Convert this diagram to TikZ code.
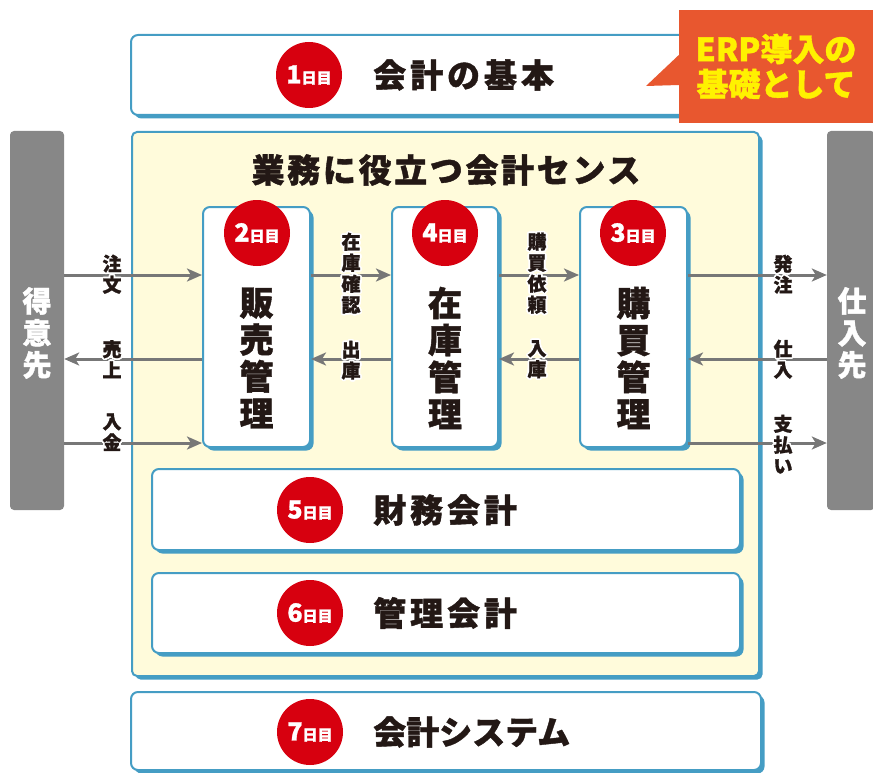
\documentclass[tikz,border=0pt]{standalone}
\usepackage{fontspec}
\setmainfont{Noto Sans CJK JP}[BoldFeatures={FakeBold=1.2}]
\usepackage[copies]{contour}
\contourlength{1.6pt}
\contournumber{20}
\usetikzlibrary{arrows.meta,shadows}
\definecolor{bblue}{RGB}{69,157,196}
\definecolor{cream}{RGB}{255,251,219}
\definecolor{bred}{RGB}{215,0,15}
\definecolor{bgrey}{RGB}{135,135,135}
\definecolor{agrey}{RGB}{119,119,119}
\definecolor{ink}{RGB}{35,24,21}
\definecolor{corange}{RGB}{232,87,47}
\definecolor{cyellow}{RGB}{255,241,0}
\newcommand{\hl}[1]{\contour{white}{#1}}
\tikzset{
  bshadow/.style={drop shadow={shadow xshift=3.5pt,shadow yshift=-3.5pt,fill=bblue,opacity=1}},
  bluebox/.style={draw=bblue, line width=2pt, rounded corners=7pt, fill=white, bshadow, inner sep=0pt},
  yellowbox/.style={draw=bblue, line width=2pt, rounded corners=5pt, fill=cream, bshadow, inner sep=0pt},
  greybar/.style={fill=bgrey, rounded corners=4pt, inner sep=0pt},
  badge/.style={circle, fill=bred, minimum size=66pt, inner sep=0pt, text=white, font=\bfseries},
  boxtext/.style={anchor=west, text=ink, font=\bfseries\fontsize{33}{33}\selectfont\addfontfeature{LetterSpace=12}, inner sep=0pt},
  modtext/.style={text=ink, align=center, font=\bfseries\fontsize{34}{37}\selectfont, inner sep=0pt},
  bartext/.style={text=white, align=center, font=\bfseries\fontsize{29}{32}\selectfont, inner sep=0pt},
  lab/.style={text=ink, align=center, font=\bfseries\fontsize{19}{21}\selectfont, inner sep=0pt},
  arr/.style={draw=agrey, line width=3pt, -{Stealth[length=15pt,width=13pt,inset=4pt]}},
}
\newcommand{\dayno}[1]{{\fontsize{25}{25}\selectfont #1}{\fontsize{15}{15}\selectfont 日目}}
\begin{document}
\begin{tikzpicture}[x=1pt,y=-1pt]
\useasboundingbox (0,0) rectangle (873,773);
% top box
\node[bluebox, minimum width=631pt, minimum height=80pt] (b1) at (446.5,75) {};
% yellow container
\node[yellowbox, minimum width=627pt, minimum height=544pt] (yb) at (445.5,404) {};
\node[text=ink, font=\bfseries\fontsize{33}{33}\selectfont\addfontfeature{LetterSpace=8}, inner sep=0pt] (title) at (446,170) {業務に役立つ会計センス};
% module boxes
\node[bluebox, minimum width=107pt, minimum height=240pt] (sales) at (256.5,327) {};
\node[bluebox, minimum width=106pt, minimum height=240pt] (stock) at (445,327) {};
\node[bluebox, minimum width=107pt, minimum height=240pt] (purch) at (633.5,327) {};
\node[modtext] (salest) at (256.5,358) {販\\売\\管\\理};
\node[modtext] (stockt) at (445,358) {在\\庫\\管\\理};
\node[modtext] (purcht) at (633.5,358) {購\\買\\管\\理};
% lower boxes
\node[bluebox, minimum width=588pt, minimum height=81pt] (b5) at (446,509.5) {};
\node[bluebox, minimum width=588pt, minimum height=80pt] (b6) at (446,613) {};
\node[bluebox, minimum width=630pt, minimum height=78pt] (b7) at (446,731) {};
% grey bars
\node[greybar, minimum width=54pt, minimum height=379pt] (lbar) at (37,320.5) {};
\node[greybar, minimum width=48pt, minimum height=379pt] (rbar) at (851,320.5) {};
\node[bartext] (lbart) at (37,333) {得\\意\\先};
\node[bartext] (rbart) at (852,333) {仕\\入\\先};
% arrows
\draw[arr] (lbar.east |- 0,275) -- (sales.west |- 0,275);
\draw[arr] (sales.west |- 0,359) -- (lbar.east |- 0,359);
\draw[arr] (lbar.east |- 0,443) -- (sales.west |- 0,443);
\draw[arr] (sales.east |- 0,275) -- (stock.west |- 0,275);
\draw[arr] (stock.west |- 0,359) -- (sales.east |- 0,359);
\draw[arr] (stock.east |- 0,275) -- (purch.west |- 0,275);
\draw[arr] (purch.west |- 0,359) -- (stock.east |- 0,359);
\draw[arr] (purch.east |- 0,275) -- (rbar.west |- 0,275);
\draw[arr] (rbar.west |- 0,359) -- (purch.east |- 0,359);
\draw[arr] (purch.east |- 0,443) -- (rbar.west |- 0,443);
% arrow labels
\node[lab] (l1) at (112,275) {\hl{注}\\\hl{文}};
\node[lab] (l2) at (112,360) {\hl{売}\\\hl{上}};
\node[lab] (l3) at (112,433) {\hl{入}\\\hl{金}};
\node[lab] (l4) at (351,274) {\hl{在}\\\hl{庫}\\\hl{確}\\\hl{認}};
\node[lab] (l5) at (351,361) {\hl{出}\\\hl{庫}};
\node[lab] (l6) at (537,274) {\hl{購}\\\hl{買}\\\hl{依}\\\hl{頼}};
\node[lab] (l7) at (537,360) {\hl{入}\\\hl{庫}};
\node[lab] (l8) at (783,275) {\hl{発}\\\hl{注}};
\node[lab] (l9) at (783,360) {\hl{仕}\\\hl{入}};
\node[lab] (l10) at (783,445) {\hl{支}\\\hl{払}\\\hl{い}};
% badges
\node[badge] (d1) at (309,75) {\dayno{1}};
\node[badge] (d2) at (257,233) {\dayno{2}};
\node[badge] (d4) at (445,233) {\dayno{4}};
\node[badge] (d3) at (633,233) {\dayno{3}};
\node[badge] (d5) at (310,510) {\dayno{5}};
\node[badge] (d6) at (310,613) {\dayno{6}};
\node[badge] (d7) at (310,732) {\dayno{7}};
% box texts
\node[boxtext] (t1) at (373,75) {会計の基本};
\node[boxtext] (t5) at (373,510) {財務会計};
\node[boxtext] (t6) at (373,613) {管理会計};
\node[boxtext, font=\bfseries\fontsize{33}{33}\selectfont] (t7) at (373,732) {会計システム};
% callout
\coordinate (tip) at (646,86);
\node[fill=corange, minimum width=194pt, minimum height=113pt, inner sep=0pt, text=cyellow, align=center, font=\bfseries\fontsize{32}{35}\selectfont] (call) at (776,66.5) {ERP導入の\\基礎として};
\fill[corange] (call.west |- 0,55) -- (tip) -- (call.west |- 0,85) -- cycle;
\end{tikzpicture}
\end{document}
